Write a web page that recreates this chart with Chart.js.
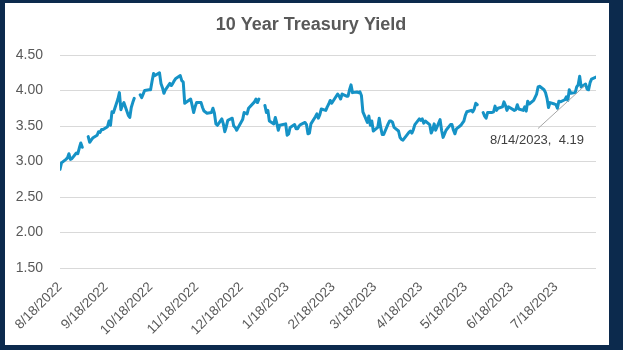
<!DOCTYPE html>
<html>
<head>
<meta charset="utf-8">
<script src="https://cdn.jsdelivr.net/npm/chart.js@4.4.0/dist/chart.umd.min.js"></script>
<style>
  html, body { margin: 0; padding: 0; background: #0c2a4d; }
  #frame { position: absolute; left: 5px; top: 3px; width: 604px; height: 342px; background: #fff; }
</style>
</head>
<body>
<div id="frame"><canvas id="chart1"></canvas></div>
<script>
// daily 10y yield, blanks (null) where the source row is empty
const dates = [
  '8/18/2022','8/19/2022','8/22/2022','8/23/2022','8/24/2022','8/25/2022','8/26/2022','8/29/2022','8/30/2022','8/31/2022',
  '9/1/2022','9/2/2022','9/5/2022','9/6/2022','9/7/2022','9/8/2022','9/9/2022','9/12/2022','9/13/2022','9/14/2022','9/15/2022','9/16/2022','9/19/2022','9/20/2022','9/21/2022','9/22/2022','9/23/2022','9/26/2022','9/27/2022','9/28/2022','9/29/2022','9/30/2022',
  '10/3/2022','10/4/2022','10/5/2022','10/6/2022','10/7/2022','10/10/2022','10/11/2022','10/12/2022','10/13/2022','10/14/2022','10/17/2022','10/18/2022','10/19/2022','10/20/2022','10/21/2022','10/24/2022','10/25/2022','10/26/2022','10/27/2022','10/28/2022','10/31/2022',
  '11/1/2022','11/2/2022','11/3/2022','11/4/2022','11/7/2022','11/8/2022','11/9/2022','11/10/2022','11/14/2022','11/15/2022','11/16/2022','11/17/2022','11/18/2022','11/21/2022','11/22/2022','11/23/2022','11/25/2022','11/28/2022','11/29/2022','11/30/2022',
  '12/1/2022','12/2/2022','12/5/2022','12/6/2022','12/7/2022','12/8/2022','12/9/2022','12/12/2022','12/13/2022','12/14/2022','12/15/2022','12/16/2022','12/19/2022','12/20/2022','12/21/2022','12/22/2022','12/23/2022','12/27/2022','12/28/2022','12/29/2022','12/30/2022',
  '1/2/2023','1/3/2023','1/4/2023','1/5/2023','1/6/2023','1/9/2023','1/10/2023','1/11/2023','1/12/2023','1/13/2023','1/17/2023','1/18/2023','1/19/2023','1/20/2023','1/23/2023','1/24/2023','1/25/2023','1/26/2023','1/27/2023','1/30/2023','1/31/2023',
  '2/1/2023','2/2/2023','2/3/2023','2/6/2023','2/7/2023','2/8/2023','2/9/2023','2/10/2023','2/13/2023','2/14/2023','2/15/2023','2/16/2023','2/17/2023','2/21/2023','2/22/2023','2/23/2023','2/24/2023','2/27/2023','2/28/2023',
  '3/1/2023','3/2/2023','3/3/2023','3/6/2023','3/7/2023','3/8/2023','3/9/2023','3/10/2023','3/13/2023','3/14/2023','3/15/2023','3/16/2023','3/17/2023','3/20/2023','3/21/2023','3/22/2023','3/23/2023','3/24/2023','3/27/2023','3/28/2023','3/29/2023','3/30/2023','3/31/2023',
  '4/3/2023','4/4/2023','4/5/2023','4/6/2023','4/10/2023','4/11/2023','4/12/2023','4/13/2023','4/14/2023','4/17/2023','4/18/2023','4/19/2023','4/20/2023','4/21/2023','4/24/2023','4/25/2023','4/26/2023','4/27/2023','4/28/2023',
  '5/1/2023','5/2/2023','5/3/2023','5/4/2023','5/5/2023','5/8/2023','5/9/2023','5/10/2023','5/11/2023','5/12/2023','5/15/2023','5/16/2023','5/17/2023','5/18/2023','5/19/2023','5/22/2023','5/23/2023','5/24/2023','5/25/2023','5/26/2023','5/29/2023','5/30/2023','5/31/2023',
  '6/1/2023','6/2/2023','6/5/2023','6/6/2023','6/7/2023','6/8/2023','6/9/2023','6/12/2023','6/13/2023','6/14/2023','6/15/2023','6/16/2023','6/20/2023','6/21/2023','6/22/2023','6/23/2023','6/26/2023','6/27/2023','6/28/2023','6/29/2023','6/30/2023',
  '7/3/2023','7/5/2023','7/6/2023','7/7/2023','7/10/2023','7/11/2023','7/12/2023','7/13/2023','7/14/2023','7/17/2023','7/18/2023','7/19/2023','7/20/2023','7/21/2023','7/24/2023','7/25/2023','7/26/2023','7/27/2023','7/28/2023','7/31/2023',
  '8/1/2023','8/2/2023','8/3/2023','8/4/2023','8/7/2023','8/8/2023','8/9/2023','8/10/2023','8/11/2023','8/14/2023'
];
const yields = [
  2.89,2.98,3.03,3.05,3.11,3.03,3.04,3.12,3.11,3.19,
  3.26,3.20,null,3.35,3.27,3.30,3.33,3.37,3.42,3.41,3.45,3.45,3.49,3.57,3.51,3.70,3.69,3.88,3.97,3.73,3.79,3.83,
  3.65,3.62,3.76,3.83,3.89,null,3.94,3.90,3.95,4.00,4.01,4.01,4.13,4.24,4.21,4.25,4.10,4.04,3.96,4.01,4.10,
  4.07,4.10,4.14,4.17,4.21,4.14,4.12,3.82,3.88,3.79,3.69,3.77,3.83,3.83,3.76,3.71,3.68,3.69,3.75,3.68,
  3.53,3.51,3.60,3.53,3.42,3.49,3.58,3.61,3.50,3.48,3.44,3.48,3.59,3.69,3.68,3.67,3.75,3.84,3.88,3.83,3.88,
  null,3.79,3.69,3.72,3.57,3.53,3.62,3.54,3.44,3.51,3.53,3.37,3.39,3.48,3.52,3.46,3.46,3.50,3.52,3.55,3.52,
  3.39,3.40,3.53,3.63,3.67,3.61,3.66,3.74,3.72,3.77,3.81,3.86,3.82,3.95,3.92,3.88,3.95,3.92,3.92,
  4.01,4.08,3.97,3.98,3.97,3.98,3.93,3.70,3.55,3.64,3.51,3.57,3.43,3.48,3.61,3.48,3.38,3.38,3.53,3.57,3.57,3.55,3.48,
  3.43,3.34,3.31,3.30,3.41,3.43,3.40,3.45,3.52,3.60,3.58,3.60,3.54,3.57,3.52,3.40,3.45,3.53,3.44,
  3.59,3.44,3.34,3.39,3.44,3.52,3.52,3.44,3.39,3.46,3.51,3.54,3.57,3.65,3.70,3.72,3.70,3.74,3.82,3.80,null,3.69,3.64,
  3.61,3.69,3.69,3.70,3.78,3.72,3.75,3.77,3.84,3.79,3.72,3.77,3.72,3.73,3.80,3.74,3.72,3.77,3.71,3.85,3.81,
  3.86,3.95,4.05,4.06,4.01,3.97,3.89,3.76,3.83,3.81,3.80,3.75,3.85,3.84,3.87,3.91,3.86,4.01,3.96,3.97,
  4.05,4.08,4.20,4.05,4.09,4.02,4.01,4.11,4.16,4.19
];
const tickLabels = ['8/18/2022','9/18/2022','10/18/2022','11/18/2022','12/18/2022','1/18/2023',
  '2/18/2023','3/18/2023','4/18/2023','5/18/2023','6/18/2023','7/18/2023'];
const yTicks = [1.5, 2.0, 2.5, 3.0, 3.5, 4.0, 4.5];

if (dates.length !== yields.length) console.error('dates/yields length mismatch', dates.length, yields.length);

// days since first date, so the x axis is a real date scale
function toUTC(s) {
  const p = s.split('/');
  return Date.UTC(+p[2], +p[0] - 1, +p[1]);
}
const day0 = toUTC(dates[0]);
function dayOf(s) { return Math.round((toUTC(s) - day0) / 86400000); }

const points = dates.map((d, i) => ({ x: dayOf(d), y: yields[i] }));
const tickDays = tickLabels.map(dayOf);
const last = dates.length - 1;

// data label for the last point with its leader line
const lastLabel = {
  id: 'lastLabel',
  afterDatasetsDraw(chart) {
    const meta = chart.getDatasetMeta(0);
    const pt = meta.data[last];
    const ctx = chart.ctx;
    ctx.save();
    ctx.strokeStyle = '#a6a6a6';
    ctx.lineWidth = 1;
    ctx.beginPath();
    ctx.moveTo(pt.x - 58, pt.y + 51.5);
    ctx.lineTo(pt.x - 11, pt.y + 8.5);
    ctx.stroke();
    ctx.fillStyle = '#404040';
    ctx.font = '13px "Liberation Sans"';
    ctx.textAlign = 'center';
    ctx.textBaseline = 'middle';
    ctx.fillText(dates[last] + ',  ' + yields[last].toFixed(2), pt.x - 59, pt.y + 63.5);
    ctx.restore();
  }
};

const ctx1 = document.getElementById('chart1').getContext('2d');
const YieldGraph = new Chart(ctx1, {
  type: 'line',
  data: {
    datasets: [
      {
        label: '10 Year Treasury Yield',
        data: points,
        borderColor: '#1592c6',
        borderWidth: 3,
        borderCapStyle: 'round',
        borderJoinStyle: 'round',
        fill: false,
        pointRadius: 0,
        tension: 0,
        spanGaps: false
      }
    ]
  },
  options: {
    responsive: true,
    maintainAspectRatio: false,
    animation: false,
    layout: { padding: { left: 8, right: 0, top: 0, bottom: 0 } },
    scales: {
      x: {
        type: 'linear',
        min: 0,
        max: dayOf(dates[last]),
        afterBuildTicks: (s) => { s.ticks = tickDays.map(v => ({ value: v })); },
        afterFit: (s) => { s.height = 77; },
        grid: { display: false },
        border: { display: false },
        ticks: {
          autoSkip: false,
          maxRotation: 45,
          minRotation: 45,
          padding: 3,
          color: '#595959',
          font: { family: '"Liberation Sans"', size: 13.5 },
          callback: (v, i) => tickLabels[i]
        }
      },
      y: {
        min: 1.5,
        max: 4.5,
        afterBuildTicks: (s) => { s.ticks = yTicks.map(v => ({ value: v })); },
        afterFit: (s) => { s.width = 47; },
        grid: { color: '#d9d9d9', lineWidth: 1, drawTicks: false },
        border: { display: false },
        ticks: {
          padding: 17,
          color: '#595959',
          font: { family: '"Liberation Sans"', size: 14 },
          callback: (v) => v.toFixed(2)
        }
      },
      // empty right gutter so the title stays centred on the frame
      yRight: {
        axis: 'y',
        position: 'right',
        afterFit: (s) => { s.width = 13; },
        grid: { display: false },
        border: { display: false },
        ticks: { display: false }
      }
    },
    plugins: {
      legend: { display: false },
      tooltip: { enabled: false },
      title: {
        display: true,
        text: '10 Year Treasury Yield',
        color: '#595959',
        font: { family: '"Liberation Sans"', size: 18, weight: 'bold' },
        padding: { top: 11, bottom: 19.4 }
      }
    }
  },
  plugins: [lastLabel]
});
</script>
</body>
</html>
